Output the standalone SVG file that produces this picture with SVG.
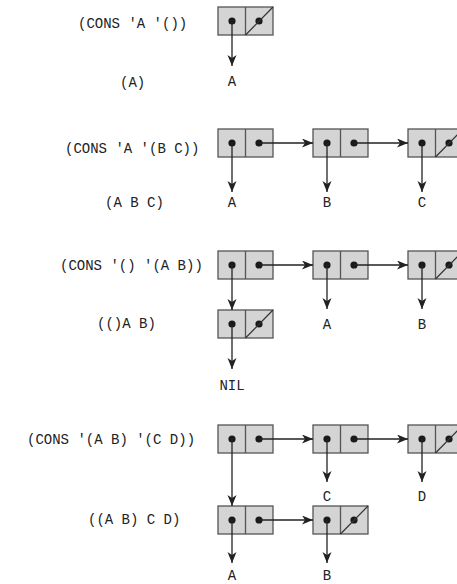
<svg xmlns="http://www.w3.org/2000/svg" width="457" height="584" viewBox="0 0 457 584">
<defs>
<marker id="ah" markerUnits="userSpaceOnUse" markerWidth="12" markerHeight="10" refX="11" refY="4.5" orient="auto">
<path d="M0,0 L11,4.5 L0,9 L3,4.5 z" fill="#222"/>
</marker>
<g id="cell">
<rect x="0" y="0" width="55" height="28" fill="#d4d4d4" stroke="#555" stroke-width="1.3"/>
<line x1="27.5" y1="0" x2="27.5" y2="28" stroke="#555" stroke-width="1.3"/>
<circle cx="14" cy="14" r="3.6" fill="#1a1a1a"/>
<circle cx="41" cy="14" r="3.6" fill="#1a1a1a"/>
</g>
<g id="nilcell">
<use href="#cell"/>
<line x1="27.5" y1="28" x2="55" y2="0" stroke="#333" stroke-width="1.2"/>
</g>
</defs>
<style>
text{font-family:"Liberation Mono","Courier New",monospace;font-size:14px;fill:#222}
.c{stroke:#222;stroke-width:1.3;fill:none;marker-end:url(#ah)}
</style>
<rect width="457" height="584" fill="#fff"/>

<g id="texts">
<text x="78" y="28">(CONS 'A '())</text>
<text x="120" y="87">(A)</text>
<text x="65" y="153">(CONS 'A '(B C))</text>
<text x="105" y="207">(A B C)</text>
<text x="60" y="270">(CONS '() '(A B))</text>
<text x="97" y="328">(()A B)</text>
<text x="27" y="444">(CONS '(A B) '(C D))</text>
<text x="88" y="524">((A B) C D)</text>
</g>

<g id="n1a"><use href="#nilcell" x="218" y="7"/></g>
<g id="n2a"><use href="#cell" x="218" y="129"/></g>
<g id="n2b"><use href="#cell" x="313" y="129"/></g>
<g id="n2c"><use href="#nilcell" x="408" y="129"/></g>
<g id="n3a"><use href="#cell" x="218" y="251"/></g>
<g id="n3b"><use href="#cell" x="313" y="251"/></g>
<g id="n3c"><use href="#nilcell" x="408" y="251"/></g>
<g id="n3d"><use href="#nilcell" x="218" y="310"/></g>
<g id="n4a"><use href="#cell" x="218" y="425"/></g>
<g id="n4b"><use href="#cell" x="313" y="425"/></g>
<g id="n4c"><use href="#nilcell" x="408" y="425"/></g>
<g id="n4d"><use href="#cell" x="218" y="506"/></g>
<g id="n4e"><use href="#nilcell" x="313" y="506"/></g>

<g id="atoms">
<text x="232" y="86" text-anchor="middle">A</text>
<text x="232" y="207" text-anchor="middle">A</text>
<text x="327" y="207" text-anchor="middle">B</text>
<text x="422" y="207" text-anchor="middle">C</text>
<text x="327" y="329" text-anchor="middle">A</text>
<text x="422" y="329" text-anchor="middle">B</text>
<text x="232" y="390" text-anchor="middle">NIL</text>
<text x="327" y="501" text-anchor="middle">C</text>
<text x="422" y="501" text-anchor="middle">D</text>
<text x="232" y="580" text-anchor="middle">A</text>
<text x="327" y="580" text-anchor="middle">B</text>
</g>

<g id="connectors">
<line class="c" x1="232" y1="21" x2="232" y2="66"/>
<line class="c" x1="232" y1="143" x2="232" y2="192"/>
<line class="c" x1="259" y1="143" x2="313" y2="143"/>
<line class="c" x1="327" y1="143" x2="327" y2="192"/>
<line class="c" x1="354" y1="143" x2="408" y2="143"/>
<line class="c" x1="422" y1="143" x2="422" y2="192"/>
<line class="c" x1="232" y1="265" x2="232" y2="310"/>
<line class="c" x1="259" y1="265" x2="313" y2="265"/>
<line class="c" x1="327" y1="265" x2="327" y2="309"/>
<line class="c" x1="354" y1="265" x2="408" y2="265"/>
<line class="c" x1="422" y1="265" x2="422" y2="309"/>
<line class="c" x1="232" y1="324" x2="232" y2="369"/>
<line class="c" x1="232" y1="439" x2="232" y2="506"/>
<line class="c" x1="259" y1="439" x2="313" y2="439"/>
<line class="c" x1="327" y1="439" x2="327" y2="482"/>
<line class="c" x1="354" y1="439" x2="408" y2="439"/>
<line class="c" x1="422" y1="439" x2="422" y2="482"/>
<line class="c" x1="259" y1="520" x2="313" y2="520"/>
<line class="c" x1="232" y1="520" x2="232" y2="563"/>
<line class="c" x1="327" y1="520" x2="327" y2="563"/>
</g>
</svg>
